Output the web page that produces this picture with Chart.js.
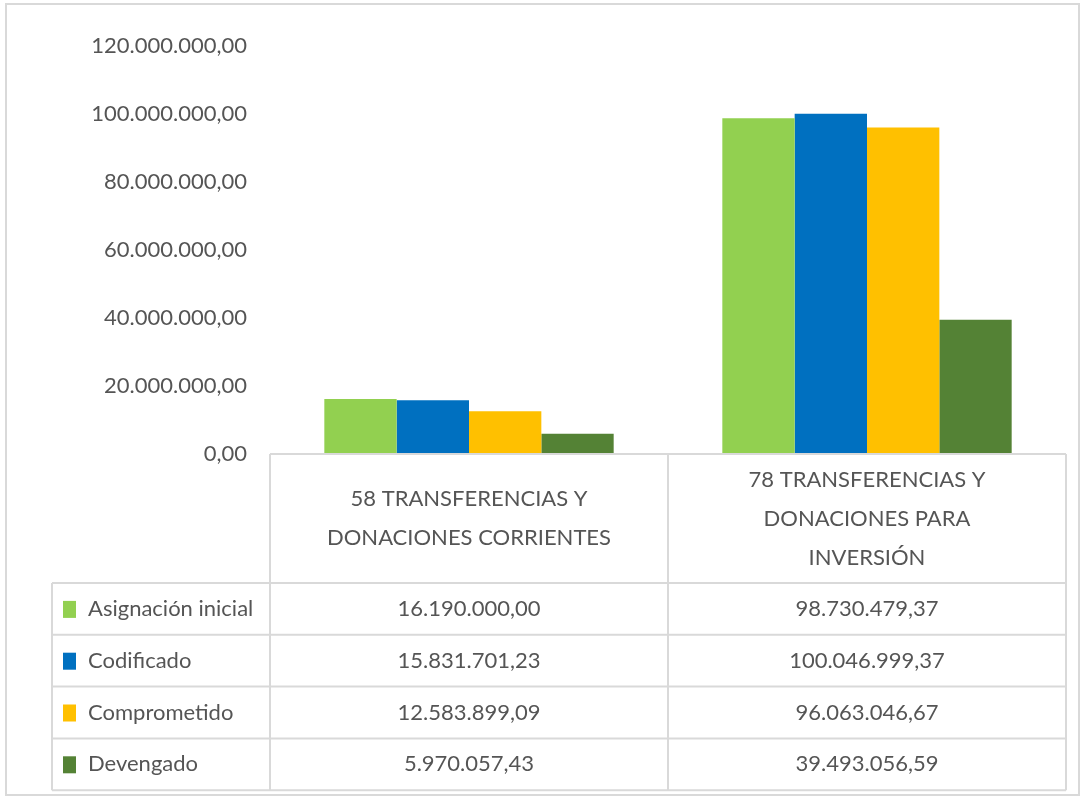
<!DOCTYPE html>
<html>
<head>
<meta charset="utf-8">
<script src="https://cdn.jsdelivr.net/npm/chart.js@4.4.1/dist/chart.umd.min.js"></script>
<style>
  html, body { margin: 0; padding: 0; background: #fff; }
  #wrap { position: relative; width: 1087px; height: 803px; }
  #frame { position: absolute; left: 5px; top: 3px; width: 1075px; height: 793px; border: 2px solid #d9d9d9; box-sizing: border-box; pointer-events: none; }
</style>
</head>
<body>
<div id="wrap">
  <canvas id="chart"></canvas>
  <div id="frame"></div>
</div>
<script>
// categories (multi-line labels) and series
const categories = [
  ['58 TRANSFERENCIAS Y', 'DONACIONES CORRIENTES'],
  ['78 TRANSFERENCIAS Y', 'DONACIONES PARA', 'INVERSIÓN']
];
const seriesNames = ['Asignación inicial', 'Codificado', 'Comprometido', 'Devengado'];
const asignacionInicial = [16190000.00, 98730479.37];
const codificado = [15831701.23, 100046999.37];
const comprometido = [12583899.09, 96063046.67];
const devengado = [5970057.43, 39493056.59];
const seriesColors = ['#92D050', '#0070C0', '#FFC000', '#548235'];
const yTicks = [0, 20000000, 40000000, 60000000, 80000000, 100000000, 120000000];

const FONT = 'Lato, "Open Sans", sans-serif';
const FSIZE = 22;
const TEXT = '#555555';
const LINE = '#d9d9d9';

function fmt(v){
	const parts = Number(v).toFixed(2).split('.');
	return parts[0].replace(/\B(?=(\d{3})+(?!\d))/g, '.') + ',' + parts[1];
}

// --- data table under the plot (Excel style) ---
const dataTable = {
	id: 'dataTable',
	afterDraw(chart){
		const ctx = chart.ctx;
		const x = chart.scales.x;
		const area = chart.chartArea;
		const n = chart.data.labels.length;
		const step = (x.getPixelForValue(1) - x.getPixelForValue(0));
		const edges = [];
		for (let i = 0; i <= n; i++) edges.push(x.getPixelForValue(0) - step / 2 + i * step);
		const tableLeft = 52;
		const headTop = area.bottom;
		const headBottom = 583;
		const rowH = 51.8;
		const nRows = chart.data.datasets.length;
		const tableBottom = headBottom + nRows * rowH;

		ctx.save();
		ctx.strokeStyle = LINE;
		ctx.lineWidth = 2;
		ctx.beginPath();
		// axis line / header top
		ctx.moveTo(edges[0], headTop); ctx.lineTo(edges[n], headTop);
		// verticals
		edges.forEach(ex => { ctx.moveTo(ex, headTop); ctx.lineTo(ex, tableBottom); });
		ctx.moveTo(tableLeft, headBottom); ctx.lineTo(tableLeft, tableBottom);
		// row lines
		for (let r = 0; r <= nRows; r++) {
			const y = headBottom + r * rowH;
			ctx.moveTo(tableLeft, y); ctx.lineTo(edges[n], y);
		}
		ctx.stroke();

		ctx.fillStyle = TEXT;
		ctx.font = FSIZE + 'px ' + FONT;
		ctx.textAlign = 'center';
		ctx.textBaseline = 'middle';
		// header labels
		const lineH = 39;
		chart.data.labels.forEach((lab, i) => {
			const lines = Array.isArray(lab) ? lab : [lab];
			const cx = x.getPixelForValue(i);
			const cy = (headTop + headBottom) / 2;
			lines.forEach((t, k) => {
				ctx.fillText(t, cx, cy + (k - (lines.length - 1) / 2) * lineH);
			});
		});
		// rows
		chart.data.datasets.forEach((ds, r) => {
			const cy = headBottom + r * rowH + rowH / 2;
			ctx.fillStyle = ds.backgroundColor;
			ctx.fillRect(63, cy - 8, 13, 17);
			ctx.fillStyle = TEXT;
			ctx.textAlign = 'left';
			ctx.fillText(ds.label, 88, cy);
			ctx.textAlign = 'center';
			ds.data.forEach((v, i) => ctx.fillText(fmt(v), x.getPixelForValue(i), cy));
		});
		ctx.restore();
	}
};

const seriesData = [asignacionInicial, codificado, comprometido, devengado];

new Chart(document.getElementById('chart'), {
	type: 'bar',
	data: {
		labels: categories,
		datasets: seriesNames.map((name, i) => ({
			label: name,
			data: seriesData[i],
			backgroundColor: seriesColors[i],
			borderWidth: 0,
			barPercentage: 1,
			categoryPercentage: 0.727
		}))
	},
	options: {
		responsive: true,
		maintainAspectRatio: false,
		animation: false,
		layout: { padding: { top: 46, right: 21, bottom: 349, left: 0 } },
		plugins: {
			legend: { display: false },
			tooltip: { enabled: false }
		},
		scales: {
			x: { display: false },
			y: {
				min: 0, max: 120000000,
				afterFit(scale){ scale.width = 270; },
				afterBuildTicks(scale){ scale.ticks = yTicks.map(v => ({ value: v })); },
				grid: { display: false, drawTicks: false },
				border: { display: false },
				ticks: {
					padding: 23,
					color: TEXT,
					font: { family: FONT, size: FSIZE },
					callback: v => fmt(v)
				}
			}
		}
	},
	plugins: [dataTable]
});
</script>
</body>
</html>
